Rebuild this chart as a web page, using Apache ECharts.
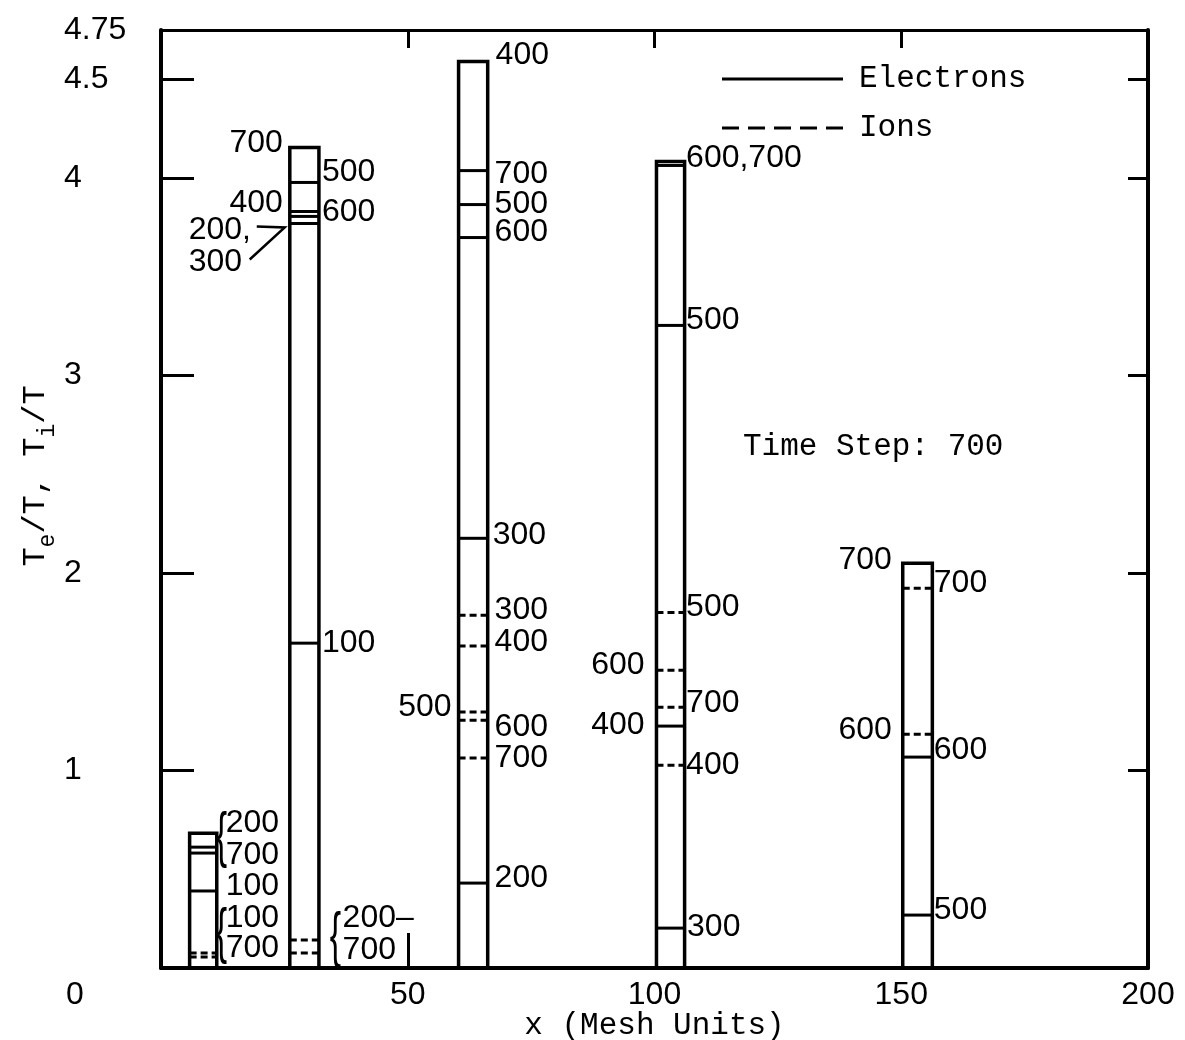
<!DOCTYPE html>
<html>
<head>
<meta charset="utf-8">
<title>Electron and ion temperature by time step</title>
<script src="https://cdn.jsdelivr.net/npm/echarts@6/dist/echarts.min.js"></script>
<style>
  html, body { margin: 0; padding: 0; background: #fff; }
  #chart { width: 1185px; height: 1040px; }
</style>
</head>
<body>
<div id="chart"></div>
<script>
// Columns at five mesh positions (x in mesh units), top of each column = highest level reached
const boxLeft  = [5.8, 26.1, 60.3, 100.4, 150.3];
const boxRight = [11.3, 32.0, 66.2, 106.1, 156.3];
const boxTop   = [0.683, 4.155, 4.59, 4.084, 2.05];

// Electron temperature levels: [column index, Te/T]
const electronLevels = [
  [0, 0.612], [0, 0.582], [0, 0.39],
  [1, 3.978], [1, 3.831], [1, 3.806], [1, 3.77], [1, 1.645],
  [2, 4.038], [2, 3.866], [2, 3.699], [2, 2.176], [2, 0.43],
  [3, 4.064], [3, 3.254], [3, 1.225], [3, 0.202],
  [4, 1.068], [4, 0.268]
];

// Ion temperature levels: [column index, Ti/T]
const ionLevels = [
  [0, 0.076], [0, 0.056],
  [1, 0.142], [1, 0.076],
  [2, 1.786], [2, 1.63], [2, 1.296], [2, 1.255], [2, 1.063],
  [3, 1.80], [3, 1.508], [3, 1.321], [3, 1.027],
  [4, 1.923], [4, 1.184]
];

// Time-step annotations: [x, y, text, alignment]
const stepLabels = [
  [13.1, 0.734, '200', 'left'], [13.1, 0.572, '700', 'left'], [13.1, 0.412, '100', 'left'],
  [13.1, 0.253, '100', 'left'], [13.1, 0.101, '700', 'left'],
  [24.7, 4.175, '700', 'right'], [32.6, 4.028, '500', 'left'], [24.7, 3.871, '400', 'right'],
  [32.6, 3.83, '600', 'left'], [5.6, 3.735, '200,', 'left'], [5.6, 3.573, '300', 'left'],
  [32.6, 1.645, '100', 'left'], [36.8, 0.253, '200\u2013', 'left'], [36.8, 0.091, '700', 'left'],
  [67.8, 4.62, '400', 'left'], [67.6, 4.02, '700', 'left'], [67.6, 3.87, '500', 'left'],
  [67.6, 3.725, '600', 'left'], [67.2, 2.19, '300', 'left'], [67.6, 1.81, '300', 'left'],
  [67.6, 1.65, '400', 'left'], [58.9, 1.32, '500', 'right'], [67.6, 1.22, '600', 'left'],
  [67.6, 1.063, '700', 'left'], [67.6, 0.455, '200', 'left'],
  [106.4, 4.10, '600,700', 'left'], [106.4, 3.28, '500', 'left'], [106.4, 1.827, '500', 'left'],
  [98.0, 1.533, '600', 'right'], [106.4, 1.341, '700', 'left'], [98.0, 1.23, '400', 'right'],
  [106.4, 1.027, '400', 'left'], [106.6, 0.207, '300', 'left'],
  [148.1, 2.065, '700', 'right'], [156.6, 1.948, '700', 'left'], [148.1, 1.204, '600', 'right'],
  [156.6, 1.103, '600', 'left'], [156.6, 0.294, '500', 'left']
];

// Braces grouping neighbouring labels: [x, y]
const braces = [[11.1, 0.658], [11.1, 0.172], [34.2, 0.152]];

// Pointer from the "200, 300" note to its level
const arrowPath = [[19.4, 3.755], [25.06, 3.75], [17.98, 3.588]];

const xTicksBottom = [50];
const xTicksTop = [50, 100, 150];
const xTickLabels = [0, 50, 100, 150, 200];
const yTicks = [1, 2, 3, 4, 4.5];
const yTickLabels = [1, 2, 3, 4, 4.5, 4.75];

const NUM_FONT = '"Liberation Sans", "DejaVu Sans", sans-serif';
const TYPE_FONT = '"Liberation Mono", "DejaVu Sans Mono", monospace';

const boxRows = boxLeft.map((l, i) => [l, boxRight[i], boxTop[i]]);
const electronRows = electronLevels.map(([b, v]) => [boxLeft[b], boxRight[b], v]);
const ionRows = ionLevels.map(([b, v]) => [boxLeft[b], boxRight[b], v]);

function levelRenderer(dash) {
  return function (params, api) {
    const a = api.coord([api.value(0), api.value(2)]);
    const b = api.coord([api.value(1), api.value(2)]);
    return {
      type: 'line',
      shape: { x1: a[0], y1: a[1], x2: b[0], y2: b[1] },
      style: { stroke: '#000', lineWidth: 3, lineDash: dash }
    };
  };
}

const chart = echarts.init(document.getElementById('chart'), null, { renderer: 'canvas' });

chart.setOption({
  backgroundColor: '#fff',
  animation: false,
  grid: { left: 161, right: 37, top: 30, bottom: 72, containLabel: false, outerBoundsMode: 'none' },
  xAxis: [
    {
      type: 'value', min: 0, max: 200, position: 'bottom',
      name: 'x (Mesh Units)', nameLocation: 'middle', nameGap: 42, nameMoveOverlap: false,
      nameTextStyle: { fontFamily: TYPE_FONT, fontSize: 31, color: '#000' },
      axisLine: { show: true, onZero: false, lineStyle: { color: '#000', width: 4 } },
      axisTick: { show: true, inside: true, length: 35, customValues: xTicksBottom, lineStyle: { color: '#000', width: 3 } },
      axisLabel: {
        customValues: xTickLabels, margin: 11, color: '#000',
        fontFamily: NUM_FONT, fontSize: 32,
        formatter: v => (v === 0 ? '{o|0}' : String(v)),
        rich: { o: { fontFamily: NUM_FONT, fontSize: 32, color: '#000', padding: [0, 172, 0, 0] } }
      },
      splitLine: { show: false }
    },
    {
      type: 'value', min: 0, max: 200, position: 'top',
      axisLine: { show: true, onZero: false, lineStyle: { color: '#000', width: 3 } },
      axisTick: { show: true, inside: true, length: 18, customValues: xTicksTop, lineStyle: { color: '#000', width: 3 } },
      axisLabel: { show: false },
      splitLine: { show: false }
    }
  ],
  yAxis: [
    {
      type: 'value', min: 0, max: 4.75, position: 'left',
      axisLine: { show: true, onZero: false, lineStyle: { color: '#000', width: 4 } },
      axisTick: { show: true, inside: true, length: 33, customValues: yTicks, lineStyle: { color: '#000', width: 3 } },
      axisLabel: {
        customValues: yTickLabels, align: 'left', margin: 97, color: '#000',
        fontFamily: NUM_FONT, fontSize: 32
      },
      splitLine: { show: false }
    },
    {
      type: 'value', min: 0, max: 4.75, position: 'right',
      axisLine: { show: true, onZero: false, lineStyle: { color: '#000', width: 4 } },
      axisTick: { show: true, inside: true, length: 20, customValues: yTicks, lineStyle: { color: '#000', width: 3 } },
      axisLabel: { show: false },
      splitLine: { show: false }
    }
  ],
  graphic: [
    // legend
    { type: 'line', shape: { x1: 722, y1: 79, x2: 843, y2: 79 }, style: { stroke: '#000', lineWidth: 3 } },
    { type: 'text', x: 859, y: 79, style: { text: 'Electrons', font: '31px ' + TYPE_FONT, fill: '#000', align: 'left', verticalAlign: 'middle', textAlign: 'left', textVerticalAlign: 'middle' } },
    { type: 'line', shape: { x1: 722, y1: 128, x2: 843, y2: 128 }, style: { stroke: '#000', lineWidth: 3, lineDash: [17, 9] } },
    { type: 'text', x: 859, y: 128, style: { text: 'Ions', font: '31px ' + TYPE_FONT, fill: '#000', align: 'left', verticalAlign: 'middle', textAlign: 'left', textVerticalAlign: 'middle' } },
    // caption
    { type: 'text', x: 743, y: 447, style: { text: 'Time Step: 700', font: '31px ' + TYPE_FONT, fill: '#000', align: 'left', verticalAlign: 'middle', textAlign: 'left', textVerticalAlign: 'middle' } },
    // vertical axis title
    {
      type: 'text', x: 36, y: 476, rotation: Math.PI / 2,
      style: {
        text: '{b|T}{s|e}{b|/T, T}{s|i}{b|/T}',
        align: 'center', verticalAlign: 'middle',
        rich: {
          b: { fontFamily: TYPE_FONT, fontSize: 32, lineHeight: 46, color: '#000', verticalAlign: 'middle' },
          s: { fontFamily: TYPE_FONT, fontSize: 23, lineHeight: 22, color: '#000', verticalAlign: 'bottom' }
        }
      }
    }
  ],
  series: [
    {
      name: 'Columns', type: 'custom', xAxisIndex: 0, yAxisIndex: 0,
      data: boxRows, encode: { x: [0, 1], y: 2 },
      renderItem: function (params, api) {
        const tl = api.coord([api.value(0), api.value(2)]);
        const br = api.coord([api.value(1), 0]);
        return {
          type: 'rect',
          shape: { x: tl[0], y: tl[1], width: br[0] - tl[0], height: br[1] - tl[1] },
          style: { fill: 'none', stroke: '#000', lineWidth: 3.5 }
        };
      }
    },
    {
      name: 'Electrons', type: 'custom', xAxisIndex: 0, yAxisIndex: 0,
      data: electronRows, encode: { x: [0, 1], y: 2 },
      renderItem: levelRenderer(null)
    },
    {
      name: 'Ions', type: 'custom', xAxisIndex: 0, yAxisIndex: 0,
      data: ionRows, encode: { x: [0, 1], y: 2 },
      renderItem: levelRenderer([7, 4])
    },
    {
      name: 'Time steps', type: 'custom', xAxisIndex: 0, yAxisIndex: 0, clip: false,
      data: stepLabels, encode: { x: 0, y: 1 },
      renderItem: function (params, api) {
        const row = stepLabels[params.dataIndex];
        const p = api.coord([row[0], row[1]]);
        return {
          type: 'text', x: p[0], y: p[1],
          style: {
            text: row[2], font: '32px ' + NUM_FONT, fill: '#000',
            align: row[3], verticalAlign: 'middle', textAlign: row[3], textVerticalAlign: 'middle'
          }
        };
      }
    },
    {
      name: 'Braces', type: 'custom', xAxisIndex: 0, yAxisIndex: 0, clip: false,
      data: braces, encode: { x: 0, y: 1 },
      renderItem: function (params, api) {
        const p = api.coord([api.value(0), api.value(1)]);
        return {
          type: 'text', x: p[0], y: p[1], scaleX: 0.55,
          style: {
            text: '{', font: '62px ' + NUM_FONT, fill: '#000',
            align: 'left', verticalAlign: 'middle', textAlign: 'left', textVerticalAlign: 'middle'
          }
        };
      }
    },
    {
      name: 'Pointer', type: 'custom', xAxisIndex: 0, yAxisIndex: 0, clip: false,
      data: [[arrowPath[0][0], arrowPath[0][1]]], encode: { x: 0, y: 1 },
      renderItem: function (params, api) {
        return {
          type: 'polyline',
          shape: { points: arrowPath.map(pt => api.coord(pt)) },
          style: { fill: 'none', stroke: '#000', lineWidth: 2.5 }
        };
      }
    }
  ]
});
</script>
</body>
</html>
